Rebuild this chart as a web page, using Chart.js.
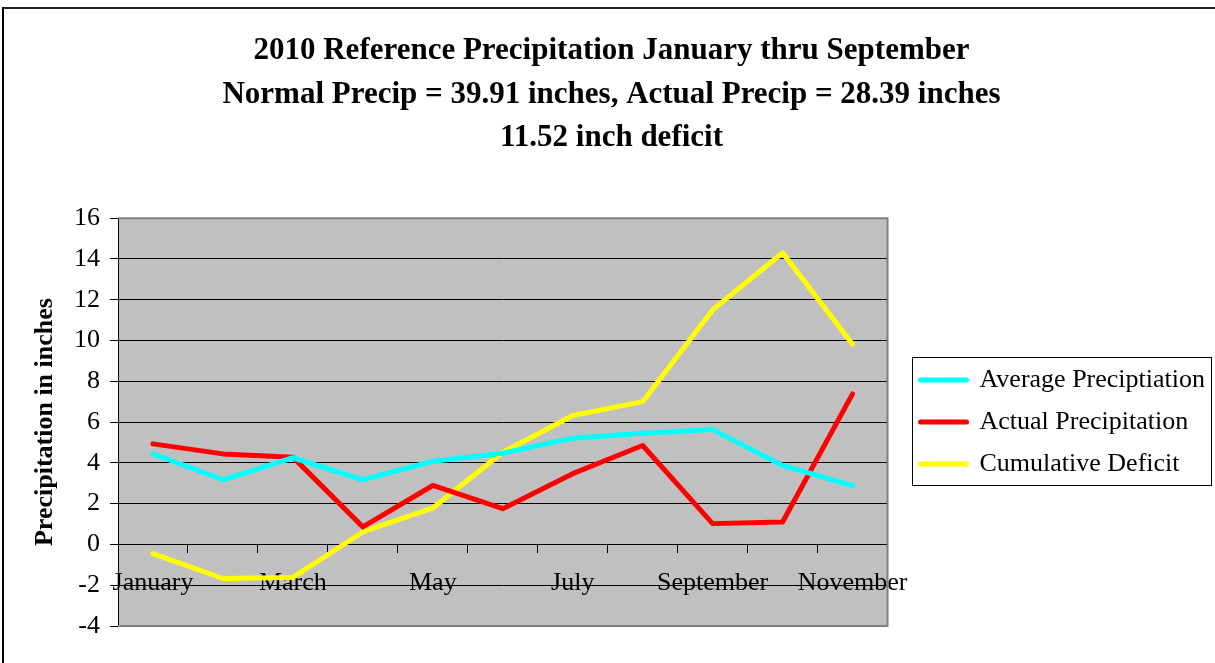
<!DOCTYPE html>
<html>
<head>
<meta charset="utf-8">
<script src="https://cdn.jsdelivr.net/npm/chart.js@4.4.1/dist/chart.umd.min.js"></script>
<style>
  html, body { margin: 0; padding: 0; background: #ffffff; }
  #wrap { width: 1215px; height: 663px; }
</style>
</head>
<body>
<div id="wrap"><canvas id="c" width="1215" height="663"></canvas></div>
<script>
const months = ['January', 'February', 'March', 'April', 'May', 'June', 'July', 'August', 'September', 'October', 'November'];
const averagePrecip = [4.44, 3.17, 4.25, 3.17, 4.08, 4.47, 5.21, 5.45, 5.63, 3.87, 2.88];
const actualPrecip = [4.93, 4.44, 4.28, 0.86, 2.89, 1.75, 3.47, 4.85, 1.02, 1.10, 7.38];
const cumulativeDeficit = [-0.45, -1.67, -1.62, 0.61, 1.79, 4.52, 6.32, 7.00, 11.50, 14.30, 9.82];
const titleLines = [
  '2010 Reference Precipitation January thru September',
  'Normal Precip = 39.91 inches, Actual Precip = 28.39 inches',
  '11.52 inch deficit'
];
const yAxisTitle = 'Precipitation in inches';
const seriesNames = ['Average Preciptiation', 'Actual Precipitation', 'Cumulative Deficit'];

const SERIF = "'Liberation Serif', 'Times New Roman', serif";

const decor = {
  id: 'decor',
  beforeDraw(chart) {
    const {ctx, chartArea: a} = chart;
    ctx.save();
    ctx.fillStyle = '#c0c0c0';
    ctx.fillRect(a.left, a.top, a.right - a.left, a.bottom - a.top);
    ctx.fillStyle = '#222';
    ctx.fillRect(2, 7, chart.width, 2);
    ctx.fillStyle = '#000';
    ctx.fillRect(2, 7, 2, chart.height);
    ctx.restore();
  },
  beforeDatasetsDraw(chart) {
    const {ctx, chartArea: a} = chart;
    ctx.save();
    ctx.strokeStyle = '#808080';
    ctx.lineWidth = 2;
    ctx.beginPath();
    ctx.moveTo(a.left, a.top);
    ctx.lineTo(a.right, a.top);
    ctx.lineTo(a.right, a.bottom);
    ctx.lineTo(a.left, a.bottom);
    ctx.stroke();
    ctx.restore();
  },
  afterDraw(chart) {
    const lg = chart.legend;
    if (!lg || !lg.legendHitBoxes || !lg.legendHitBoxes.length) return;
    const hb = lg.legendHitBoxes;
    const first = hb[0], last = hb[hb.length - 1];
    const {ctx} = chart;
    const l = first.left - 9, t = first.top - 10.5;
    const r = Math.max(...hb.map(h => h.left + h.width)) + 6;
    const b = last.top + last.height + 7.5;
    ctx.save();
    ctx.strokeStyle = '#000';
    ctx.lineWidth = 1;
    ctx.strokeRect(Math.round(l) + 0.5, Math.round(t) + 0.5, Math.round(r - l), Math.round(b - t));
    ctx.restore();
  }
};

new Chart(document.getElementById('c'), {
  type: 'line',
  data: {
    labels: months,
    datasets: [
      { label: seriesNames[0], data: averagePrecip, borderColor: '#00ffff', backgroundColor: '#00ffff' },
      { label: seriesNames[1], data: actualPrecip, borderColor: '#ff0000', backgroundColor: '#ff0000' },
      { label: seriesNames[2], data: cumulativeDeficit, borderColor: '#ffff00', backgroundColor: '#ffff00' }
    ]
  },
  options: {
    responsive: false,
    devicePixelRatio: 1,
    animation: false,
    layout: { padding: { left: 8, right: 0, top: 0, bottom: 37 } },
    elements: {
      line: { borderWidth: 5, tension: 0, borderCapStyle: 'round', borderJoinStyle: 'round', fill: false },
      point: { radius: 0, hoverRadius: 0 }
    },
    scales: {
      x: {
        type: 'category',
        position: { y: 0 },
        offset: true,
        grid: { display: true, drawOnChartArea: false, drawTicks: true, tickLength: 8, offset: true, color: '#000', lineWidth: 1 },
        border: { display: true, color: '#000', width: 1 },
        ticks: {
          autoSkip: false, maxRotation: 0, minRotation: 0, padding: 15, color: '#000',
          font: { family: SERIF, size: 26 },
          callback: function (v, i) { return i % 2 === 0 ? this.getLabelForValue(v) : ''; }
        }
      },
      y: {
        position: 'left',
        min: -4, max: 16,
        ticks: { stepSize: 2, padding: 10, color: '#000', font: { family: SERIF, size: 26 } },
        grid: { color: '#000', lineWidth: 1, drawTicks: true, tickLength: 8 },
        border: { display: true, color: '#000', width: 1 },
        title: { display: true, text: yAxisTitle, color: '#000', font: { family: SERIF, size: 26, weight: 'bold', lineHeight: 1.2 }, padding: { top: 22, bottom: 0 } },
        afterFit(s) { s.width = 110; }
      },
      gap: {
        type: 'linear', position: 'right', display: true,
        grid: { display: false, drawTicks: false },
        border: { display: false },
        ticks: { display: false },
        afterFit(s) { s.width = 17; }
      }
    },
    plugins: {
      title: {
        display: true, text: titleLines, color: '#000',
        font: { family: SERIF, size: 31, weight: 'bold', lineHeight: 1.41 },
        padding: { top: 29, bottom: 58 }
      },
      legend: {
        display: true, position: 'right', align: 'center', fullSize: false, maxWidth: 400,
        labels: {
          usePointStyle: true, pointStyle: 'line', pointStyleWidth: 46,
          padding: 16, color: '#000', font: { family: SERIF, size: 26 },
          generateLabels(chart) {
            const items = Chart.defaults.plugins.legend.labels.generateLabels(chart);
            items.forEach(it => { it.lineWidth = 5; it.lineCap = 'round'; });
            return items;
          }
        }
      },
      tooltip: { enabled: false }
    }
  },
  plugins: [decor]
});
</script>
</body>
</html>
